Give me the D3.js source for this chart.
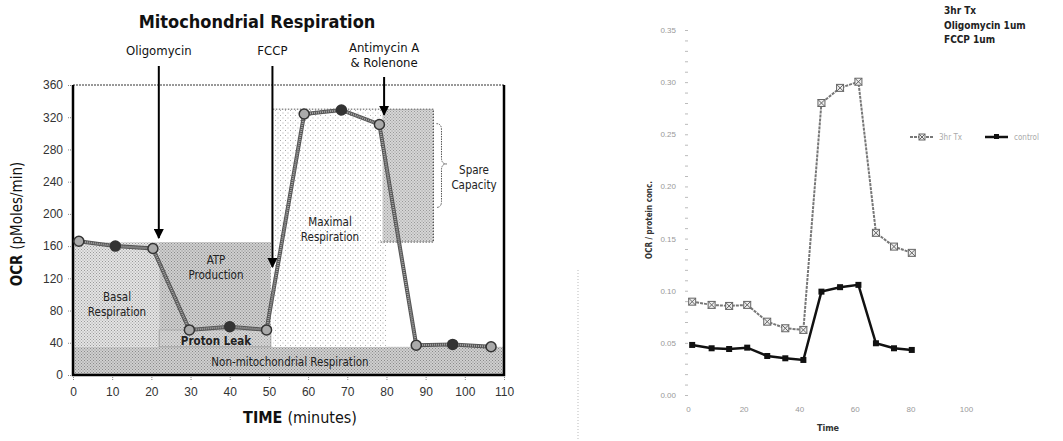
<!DOCTYPE html>
<html>
<head>
<meta charset="utf-8">
<script src="https://cdn.jsdelivr.net/npm/d3@7"></script>
<style>
  body { margin: 0; background: #fff; }
  svg { display: block; }
  .cond { font-family: "DejaVu Sans Condensed", "Liberation Sans Narrow", "DejaVu Sans", sans-serif; }
</style>
</head>
<body>
<svg id="chart" width="1063" height="441"></svg>
<script>
// left panel: classic seahorse profile
const leftTime = [1.5, 10.8, 20.4, 29.7, 40, 49.4, 59, 68.5, 78.2, 87.6, 96.9, 106.7];
const leftOcr = [166, 160, 157, 56, 60, 56, 324, 329, 311, 37, 38, 35];
const leftYTicks = [0, 40, 80, 120, 160, 200, 240, 280, 320, 360];
const leftXTicks = [0, 10, 20, 30, 40, 50, 60, 70, 80, 90, 100, 110];

const regionNames = ["nonMito", "basal", "maximal", "atp", "leak", "spare"];
const regionT0 = [0, 0, 51, 22, 22, 79];
const regionT1 = [110, 22, 80, 50.5, 50.5, 92];
const regionO0 = [0, 35, 35, 57, 35, 165];
const regionO1 = [35, 165, 330, 165, 57, 330];

const injectionNames = ["Oligomycin", "FCCP", "Antimycin A"];
const injectionTime = [21.9, 50.9, 79.4];
const injectionTip = [170, 134, 323];

// right panel
const rightTime = [1.5, 8.5, 14.8, 21.3, 28.5, 35, 41.5, 48, 54.7, 61.3, 67.6, 74.1, 80.5];
const treated = [0.0895, 0.0864, 0.0854, 0.0864, 0.0703, 0.064, 0.0624, 0.280, 0.2945, 0.3004, 0.1555, 0.1423, 0.1363];
const control = [0.048, 0.0448, 0.0441, 0.0454, 0.0374, 0.0352, 0.0336, 0.0991, 0.1034, 0.1056, 0.0496, 0.0448, 0.0432];
const rightYTicks = [0, 0.05, 0.1, 0.15, 0.2, 0.25, 0.3, 0.35];
const rightXTicks = [0, 20, 40, 60, 80, 100];
const seriesNames = ["3hr Tx", "control"];
const noteLines = ["3hr Tx", "Oligomycin 1um", "FCCP 1um"];

const svg = d3.select("#chart");
const defs = svg.append("defs");

function stipple(id, bg, dot, step, r) {
  const p = defs.append("pattern").attr("id", id)
    .attr("patternUnits", "userSpaceOnUse").attr("width", step).attr("height", step);
  p.append("rect").attr("width", step).attr("height", step).attr("fill", bg);
  p.append("rect").attr("x", 0).attr("y", 0).attr("width", r).attr("height", r).attr("fill", dot);
  p.append("rect").attr("x", step / 2).attr("y", step / 2).attr("width", r).attr("height", r).attr("fill", dot);
}
stipple("pDense", "#cfcfcf", "#8a8a8a", 3, 1);
stipple("pLight", "#e4e4e4", "#9a9a9a", 3, 1);
stipple("pMed", "#d6d6d6", "#999", 3, 1);
stipple("pSparse", "#fff", "#aaa", 5, 1);

const regionFill = {
  nonMito: "url(#pDense)", basal: "url(#pLight)", maximal: "url(#pSparse)",
  atp: "url(#pDense)", leak: "url(#pLight)", spare: "url(#pMed)"
};

// ---------- left chart ----------
const x = d3.scaleLinear().domain([0, 110]).range([73, 504]);
const y = d3.scaleLinear().domain([0, 360]).range([375, 85]);
const L = svg.append("g").attr("class", "cond");

L.append("g").selectAll("rect")
  .data(regionNames)
  .join("rect")
  .attr("x", (d, i) => x(regionT0[i]))
  .attr("y", (d, i) => y(regionO1[i]))
  .attr("width", (d, i) => x(regionT1[i]) - x(regionT0[i]))
  .attr("height", (d, i) => y(regionO0[i]) - y(regionO1[i]))
  .attr("fill", d => regionFill[d]);

// spare capacity dotted outline + brace
L.append("path")
  .attr("d", `M${x(51)},${y(330)} H${x(92)} V${y(165)} H${x(78)}`)
  .attr("fill", "none").attr("stroke", "#555").attr("stroke-width", 1).attr("stroke-dasharray", "1.5,1.5");
const bx = x(92) + 3, by0 = y(312), by1 = y(208), bm = y(262);
L.append("path")
  .attr("d", `M${bx},${by0} q5,0 5,6 V${bm - 6} q0,6 5,6 q-5,0 -5,6 V${by1 - 6} q0,6 -5,6`)
  .attr("fill", "none").attr("stroke", "#555").attr("stroke-width", 1).attr("stroke-dasharray", "1.5,1");

// proton leak label box
L.append("rect").attr("x", x(22)).attr("y", y(56)).attr("width", x(50.5) - x(22)).attr("height", y(35) - y(56))
  .attr("fill", "url(#pMed)").attr("stroke", "#999").attr("stroke-width", 0.8);

// region labels
const regionText = [
  { t: ["Basal", "Respiration"], x: 117, y: 301 },
  { t: ["ATP", "Production"], x: 216, y: 264 },
  { t: ["Maximal", "Respiration"], x: 330, y: 226 },
  { t: ["Spare", "Capacity"], x: 474, y: 174 },
  { t: ["Proton Leak"], x: 216, y: 345, bold: true },
  { t: ["Non-mitochondrial Respiration"], x: 290, y: 366 }
];
regionText.forEach(r => {
  const t = L.append("text").attr("x", r.x).attr("y", r.y).attr("text-anchor", "middle")
    .attr("font-size", 11.5).attr("fill", "#222").attr("font-weight", r.bold ? "bold" : "normal");
  r.t.forEach((s, i) => t.append("tspan").attr("x", r.x).attr("dy", i ? 15 : 0).text(s));
});

// axes
const yAx = L.append("g").attr("transform", `translate(${x(0) - 2},0)`)
  .call(d3.axisLeft(y).tickValues(leftYTicks).tickSize(3).tickPadding(5));
yAx.select(".domain").remove();
yAx.selectAll("text").attr("font-size", 12).attr("fill", "#333").attr("font-family", null);
yAx.selectAll("line").attr("stroke", "#888").attr("stroke-dasharray", "1,1");

const xAx = L.append("g").attr("transform", `translate(0,${y(0) + 2})`)
  .call(d3.axisBottom(x).tickValues(leftXTicks).tickSize(4).tickPadding(6));
xAx.select(".domain").remove();
xAx.selectAll("text").attr("font-size", 12).attr("fill", "#333").attr("font-family", null);
xAx.selectAll("line").attr("stroke", "#888").attr("stroke-dasharray", "1,1");

// frame
L.append("line").attr("x1", x(0)).attr("x2", x(110)).attr("y1", y(360)).attr("y2", y(360))
  .attr("stroke", "#333").attr("stroke-width", 1).attr("stroke-dasharray", "2,1");
L.append("path").attr("d", `M${x(0)},${y(360)} V${y(0)} H${x(110)} V${y(360)}`)
  .attr("fill", "none").attr("stroke", "#000").attr("stroke-width", 2.5);

// data line
const lineL = d3.line().x((d, i) => x(leftTime[i])).y(d => y(d));
L.append("path").datum(leftOcr).attr("d", lineL)
  .attr("fill", "none").attr("stroke", "#555").attr("stroke-width", 4);
L.append("path").datum(leftOcr).attr("d", lineL)
  .attr("fill", "none").attr("stroke", "#aaa").attr("stroke-width", 2).attr("stroke-dasharray", "1,1");
L.append("g").selectAll("circle")
  .data(leftOcr).join("circle")
  .attr("cx", (d, i) => x(leftTime[i])).attr("cy", d => y(d)).attr("r", 5)
  .attr("fill", (d, i) => i % 3 === 1 ? "#333" : "#aaa").attr("stroke", "#333").attr("stroke-width", 1.5);

// injection arrows
defs.append("marker").attr("id", "arr").attr("viewBox", "0 0 10 10").attr("refX", 9).attr("refY", 5)
  .attr("markerWidth", 5).attr("markerHeight", 5).attr("orient", "auto")
  .append("path").attr("d", "M0,0 L10,5 L0,10 z").attr("fill", "#000");
const arrowTop = [66, 66, 77];
L.append("g").selectAll("line")
  .data(injectionNames).join("line")
  .attr("x1", (d, i) => x(injectionTime[i])).attr("x2", (d, i) => x(injectionTime[i]))
  .attr("y1", (d, i) => arrowTop[i]).attr("y2", (d, i) => y(injectionTip[i]))
  .attr("stroke", "#000").attr("stroke-width", 2).attr("marker-end", "url(#arr)");

L.append("text").attr("x", x(injectionTime[0])).attr("y", 55).attr("text-anchor", "middle")
  .attr("font-size", 13).attr("fill", "#111").text(injectionNames[0]);
L.append("text").attr("x", x(injectionTime[1])).attr("y", 55).attr("text-anchor", "middle")
  .attr("font-size", 13).attr("fill", "#111").text(injectionNames[1]);
L.append("text").attr("x", x(injectionTime[2])).attr("y", 52).attr("text-anchor", "middle")
  .attr("font-size", 13).attr("fill", "#111").text(injectionNames[2]);
L.append("text").attr("x", x(injectionTime[2])).attr("y", 67).attr("text-anchor", "middle")
  .attr("font-size", 13).attr("fill", "#111").text("& Rolenone");

L.append("text").attr("x", 257).attr("y", 28).attr("text-anchor", "middle")
  .attr("font-size", 18).attr("font-weight", "bold").attr("fill", "#111").text("Mitochondrial Respiration");

const xt = L.append("text").attr("x", 300).attr("y", 423).attr("text-anchor", "middle").attr("font-size", 16).attr("fill", "#111");
xt.append("tspan").attr("font-weight", "bold").text("TIME ");
xt.append("tspan").text("(minutes)");
const yt = L.append("text").attr("transform", "translate(22,224) rotate(-90)").attr("text-anchor", "middle")
  .attr("font-size", 15).attr("fill", "#111");
yt.append("tspan").attr("font-weight", "bold").text("OCR ");
yt.append("tspan").text("(pMoles/min)");

// divider
svg.append("line").attr("x1", 578).attr("x2", 578).attr("y1", 270).attr("y2", 441)
  .attr("stroke", "#bbb").attr("stroke-dasharray", "1,2");

// ---------- right chart ----------
const x2 = d3.scaleLinear().domain([0, 100]).range([688, 966]);
const y2 = d3.scaleLinear().domain([0, 0.35]).range([395, 30]);
const R = svg.append("g").attr("font-family", "'DejaVu Sans Condensed', 'DejaVu Sans', sans-serif");

const yMinor = R.append("g").attr("transform", `translate(${x2(0)},0)`)
  .call(d3.axisLeft(y2).ticks(35).tickSize(3).tickFormat(""));
yMinor.select(".domain").remove();
yMinor.selectAll("line").attr("stroke", "#bbb");
const yR = R.append("g").attr("transform", `translate(${x2(0)},0)`)
  .call(d3.axisLeft(y2).tickValues(rightYTicks).tickSize(0).tickPadding(12).tickFormat(d3.format(".2f")));
yR.select(".domain").remove();
yR.selectAll("text").attr("font-size", 8).attr("fill", "#999").attr("font-family", null);

const xR = R.append("g").attr("transform", `translate(0,402)`)
  .call(d3.axisBottom(x2).tickValues(rightXTicks).tickSize(0).tickPadding(4));
xR.select(".domain").remove();
xR.selectAll("text").attr("font-size", 8).attr("fill", "#999").attr("font-family", null);

const lineR = d3.line().x((d, i) => x2(rightTime[i])).y(d => y2(d));
R.append("path").datum(treated).attr("d", lineR).attr("fill", "none")
  .attr("stroke", "#777").attr("stroke-width", 2).attr("stroke-dasharray", "3,1");
R.append("path").datum(control).attr("d", lineR).attr("fill", "none")
  .attr("stroke", "#111").attr("stroke-width", 2.5);

function xSquare(g, cx, cy, s) {
  g.append("rect").attr("x", cx - s / 2).attr("y", cy - s / 2).attr("width", s).attr("height", s)
    .attr("fill", "#eee").attr("stroke", "#666").attr("stroke-width", 1);
  g.append("path").attr("d", `M${cx - s / 2},${cy - s / 2} L${cx + s / 2},${cy + s / 2} M${cx + s / 2},${cy - s / 2} L${cx - s / 2},${cy + s / 2}`)
    .attr("stroke", "#666").attr("stroke-width", 1);
}
const tm = R.append("g");
treated.forEach((d, i) => xSquare(tm, x2(rightTime[i]), y2(d), 7));
R.append("g").selectAll("rect")
  .data(control).join("rect")
  .attr("x", (d, i) => x2(rightTime[i]) - 3).attr("y", d => y2(d) - 3)
  .attr("width", 6).attr("height", 6).attr("fill", "#111");

// legend
R.append("line").attr("x1", 910).attr("x2", 934).attr("y1", 137).attr("y2", 137)
  .attr("stroke", "#777").attr("stroke-width", 2).attr("stroke-dasharray", "3,1");
xSquare(R, 922, 137, 6);
R.append("text").attr("x", 939).attr("y", 140).attr("font-size", 8).attr("fill", "#aaa").text(seriesNames[0]);
R.append("line").attr("x1", 985).attr("x2", 1008).attr("y1", 137).attr("y2", 137)
  .attr("stroke", "#111").attr("stroke-width", 2.5);
R.append("rect").attr("x", 994).attr("y", 134).attr("width", 5).attr("height", 5).attr("fill", "#111");
R.append("text").attr("x", 1014).attr("y", 140).attr("font-size", 8).attr("fill", "#aaa").text(seriesNames[1]);

R.append("g").selectAll("text")
  .data(noteLines).join("text")
  .attr("x", 944).attr("y", (d, i) => 14 + i * 14.5)
  .attr("font-size", 10).attr("font-weight", "bold").attr("fill", "#222").text(d => d);

R.append("text").attr("transform", "translate(652,220) rotate(-90)").attr("text-anchor", "middle")
  .attr("font-size", 8).attr("font-weight", "bold").attr("fill", "#333").text("OCR / protein conc.");
R.append("text").attr("x", 828).attr("y", 431).attr("text-anchor", "middle")
  .attr("font-size", 9).attr("font-weight", "bold").attr("fill", "#333").text("Time");
</script>
</body>
</html>
